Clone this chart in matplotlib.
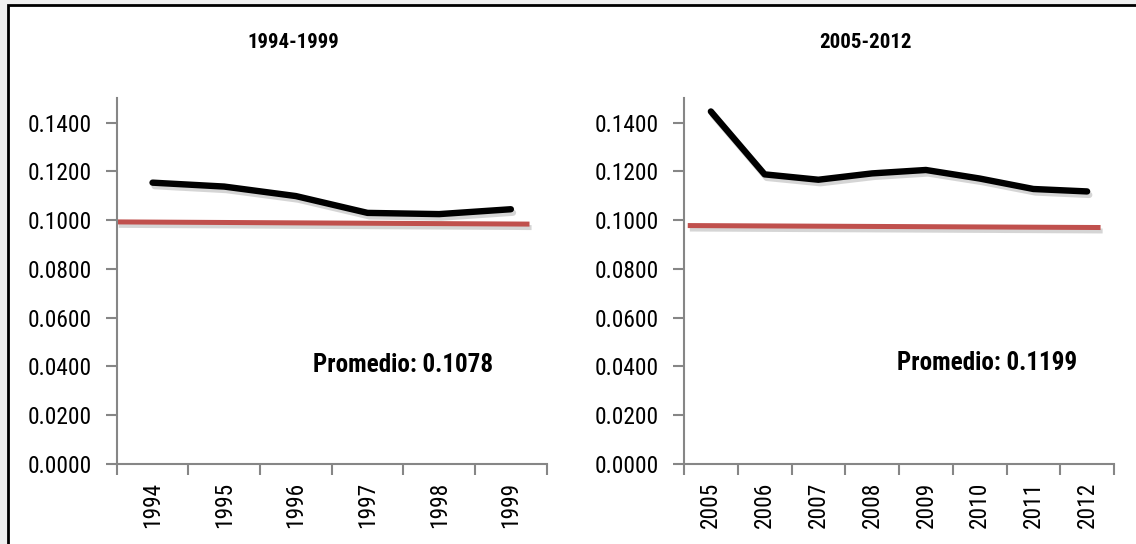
import matplotlib
matplotlib.use("Agg")
import matplotlib.pyplot as plt
import matplotlib.patheffects as pe
from matplotlib import font_manager
from matplotlib.font_manager import FontProperties
from matplotlib.patches import Rectangle

# ---- data ----
years_a = ["1994", "1995", "1996", "1997", "1998", "1999"]
values_a = [0.1154, 0.1138, 0.1099, 0.1030, 0.1025, 0.1045]
ref_a = [0.0993, 0.0984]          # reference level, start / end
ref_span_a = [0.5, 6.26]
avg_a = "Promedio: 0.1078"
title_a = "1994-1999"

years_b = ["2005", "2006", "2007", "2008", "2009", "2010", "2011", "2012"]
values_b = [0.1446, 0.1188, 0.1166, 0.1192, 0.1206, 0.1171, 0.1128, 0.1118]
ref_b = [0.0978, 0.0970]
ref_span_b = [0.57, 8.25]
avg_b = "Promedio: 0.1199"
title_b = "2005-2012"

yticks = [0.0, 0.02, 0.04, 0.06, 0.08, 0.10, 0.12, 0.14]

fig = plt.figure(figsize=(11.36, 5.44), dpi=100)
renderer = fig.canvas.get_renderer()


def text_width(text, fp, size=20):
    probe = fig.text(0, 0, text, fontproperties=fp, fontsize=size)
    w = probe.get_window_extent(renderer).width
    probe.remove()
    return w


def weight_of(f):
    if isinstance(f.weight, int):
        return f.weight
    return {"bold": 700, "normal": 400, "regular": 400}.get(str(f.weight), 400)


# ---- fonts: a narrow sans close to the proportions of a classic narrow grotesque ----
GOOD = ("Noto Sans", "Roboto", "Open Sans", "Liberation Sans", "DejaVu Sans",
        "Lato", "Inter")
TARGET = 2.51 * 20 * 100 / 72      # width of "0.1400" at 20 pt


def narrow_fonts(lo, hi):
    out = []
    for f in font_manager.fontManager.ttflist:
        if not f.name.startswith(GOOD) or "Mono" in f.name:
            continue
        narrow = ("Narrow" in f.name or "Condensed" in f.name
                  or str(f.stretch) in ("condensed", "semi-condensed",
                                        "extra-condensed"))
        if narrow and f.style == "normal" and lo <= weight_of(f) <= hi:
            out.append(f)
    return out


def closest(cands):
    best, best_d = None, None
    for f in cands:
        try:
            w = text_width("0.1400", FontProperties(fname=f.fname))
        except Exception:
            continue
        d = abs(w - TARGET)
        if best_d is None or d < best_d:
            best, best_d = f, d
    return best


reg = closest(narrow_fonts(380, 500))
FP_REG = (FontProperties(fname=reg.fname) if reg
          else FontProperties(family="Liberation Sans"))
bold_cands = narrow_fonts(600, 800)
same = [f for f in bold_cands if reg is not None and f.name == reg.name]
bld = closest(same) or closest(bold_cands)
FP_BOLD = (FontProperties(fname=bld.fname) if bld
           else FontProperties(family="Liberation Sans", weight="bold"))

TICK = 20 * 64 / text_width("0.1400", FP_REG)
TITLE = 20 * 92 / text_width("1994-1999", FP_BOLD)
NOTE = 20 * 180 / text_width(avg_a, FP_BOLD)

AX_GREY = "#868686"
RED = "#C0504D"

fig.patch.set_facecolor("#f0f0f0")
# white chart area with black frame, kept behind the axes
frame = Rectangle((7.5 / 1136, -0.01), 1.02, 1 - 5 / 544 + 0.01,
                  transform=fig.transFigure, facecolor="white",
                  edgecolor="black", linewidth=2.0, zorder=-10)
fig.patches.append(frame)


def panel(rect, years, values, ref, ref_span, note, note_xy, title, title_x):
    ax = fig.add_axes(rect)
    ax.set_zorder(1)
    ax.set_facecolor("none")
    n = len(years)
    x = list(range(1, n + 1))
    shadow = [pe.SimpleLineShadow(offset=(1.5, -2.5), shadow_color="#777777",
                                  alpha=0.3), pe.Normal()]
    ax.plot(ref_span, ref, color=RED, lw=3.6, solid_capstyle="butt",
            path_effects=shadow, zorder=2)
    ax.plot(x, values, color="black", lw=4.6, solid_capstyle="round",
            solid_joinstyle="round", path_effects=shadow, zorder=3)

    ax.set_xlim(0.5, n + 0.5)
    ax.set_ylim(0, 0.15)
    for s in ("top", "right"):
        ax.spines[s].set_visible(False)
    for s in ("left", "bottom"):
        ax.spines[s].set_color(AX_GREY)
        ax.spines[s].set_linewidth(1.5)

    ax.set_yticks(yticks)
    ax.set_yticklabels([f"{v:.4f}" for v in yticks], fontproperties=FP_REG,
                       fontsize=TICK)
    ax.tick_params(axis="y", direction="out", length=8, width=1.5,
                   color=AX_GREY, pad=10)

    ax.set_xticks(x)
    ax.set_xticklabels(years, rotation=90, fontproperties=FP_REG,
                       fontsize=TICK)
    ax.set_xticks([i + 0.5 for i in range(0, n + 1)], minor=True)
    ax.tick_params(axis="x", which="major", length=0, pad=13)
    ax.tick_params(axis="x", which="minor", direction="out", length=8,
                   width=1.5, color=AX_GREY)

    ax.text(note_xy[0], note_xy[1], note, ha="center", va="center",
            fontproperties=FP_BOLD, fontsize=NOTE)
    fig.text(title_x, 0.922, title, ha="center", va="center",
             fontproperties=FP_BOLD, fontsize=TITLE, zorder=2)
    return ax


panel([116.7 / 1136, 1 - 464 / 544, 430 / 1136, (464 - 98.3) / 544],
      years_a, values_a, ref_a, ref_span_a, avg_a, (4.49, 0.0407),
      title_a, 293.5 / 1136)
panel([684 / 1136, 1 - 464 / 544, 430 / 1136, (464 - 98.3) / 544],
      years_b, values_b, ref_b, ref_span_b, avg_b, (6.14, 0.0413),
      title_b, 866 / 1136)

fig.savefig("out.png", dpi=100, facecolor=fig.get_facecolor())
